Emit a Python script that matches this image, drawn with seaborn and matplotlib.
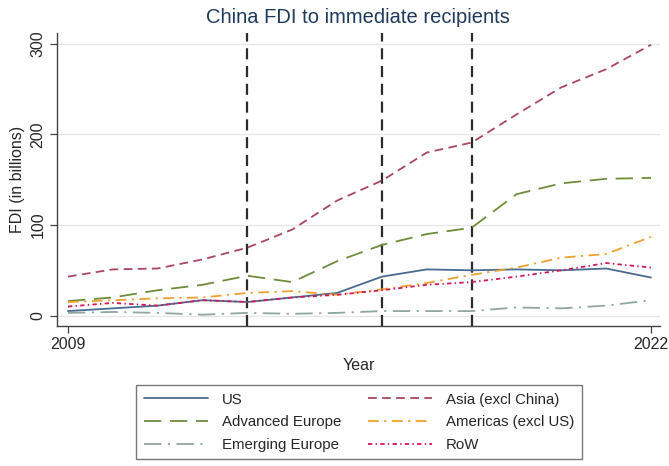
import pandas as pd
import matplotlib
matplotlib.use("Agg")
import matplotlib.pyplot as plt
import seaborn as sns

# Values (billions)
years = list(range(2009, 2023))
us = [5, 8, 11, 17, 15, 20, 25, 43, 51, 50, 51, 50, 52, 42]
adv_europe = [16, 20, 28, 34, 44, 37, 60, 78, 90, 97, 134, 146, 151, 152]
emg_europe = [3, 4, 3, 1, 3, 2, 3, 5, 5, 5, 9, 8, 11, 17]
asia = [43, 51, 52, 62, 75, 95, 127, 149, 180, 191, 222, 252, 272, 299]
americas = [15, 17, 19, 20, 25, 27, 23, 29, 36, 45, 53, 64, 68, 87]
row = [10, 14, 11, 17, 15, 20, 23, 28, 34, 37, 43, 50, 58, 53]
event_years = [2013, 2016, 2018]

regions = ["US", "Advanced Europe", "Emerging Europe",
           "Asia (excl China)", "Americas (excl US)", "RoW"]
series = [us, adv_europe, emg_europe, asia, americas, row]

df = pd.concat(
    [pd.DataFrame({"Year": years, "FDI": vals, "region": name})
     for name, vals in zip(regions, series)],
    ignore_index=True,
)

palette = {
    "US": "#4a6b90",
    "Advanced Europe": "#6e8c3c",
    "Emerging Europe": "#8ea7a2",
    "Asia (excl China)": "#a8475f",
    "Americas (excl US)": "#f0a030",
    "RoW": "#d2185a",
}
dashes = {
    "US": "",
    "Advanced Europe": (9.6, 4.8),
    "Emerging Europe": (9.6, 3.6, 1.2, 3.6),
    "Asia (excl China)": (4.8, 3),
    "Americas (excl US)": (6, 3, 1.2, 3),
    "RoW": (2.4, 1.8, 0.8, 1.8),
}

sns.set_style("white")
fonts = ["Liberation Sans Narrow", "Liberation Sans", "DejaVu Sans"]
plt.rcParams["font.family"] = fonts

fig = plt.figure(figsize=(6.69, 4.66), dpi=100)
ax = fig.add_axes([0.0848, 0.3004, 0.9017, 0.6288])

# horizontal grid
ax.set_yticks([0, 100, 200, 300])
ax.yaxis.grid(True, color="#e6e6e6", lw=0.9)
ax.set_axisbelow(True)

sns.lineplot(data=df, x="Year", y="FDI", hue="region", style="region",
             hue_order=regions, style_order=regions, palette=palette,
             dashes=dashes, lw=1.3, ax=ax)

for yr in event_years:
    ax.axvline(yr, color="#2b2b2b", lw=1.6, ls=(0, (5, 3)), zorder=1)

ax.set_xlim(2008.75, 2022.2)
ax.set_ylim(-11.5, 312)
ax.set_xticks([2009, 2022])
ax.set_xticklabels(["2009", "2022"], fontsize=11.5)
ax.set_yticklabels(["0", "100", "200", "300"], rotation=90, va="center",
                   fontsize=11.5)
ax.tick_params(axis="both", direction="out", length=5, width=0.9,
               color="#444444", bottom=True, left=True, pad=3)

for side in ["top", "right"]:
    ax.spines[side].set_visible(False)
for side in ["left", "bottom"]:
    ax.spines[side].set_color("#444444")
    ax.spines[side].set_linewidth(1.0)

ax.set_xlabel("Year", fontsize=11.5, labelpad=4)
ax.set_ylabel("FDI (in billions)", fontsize=11.5, labelpad=4)
ax.set_title("China FDI to immediate recipients", fontsize=14.5,
             color="#1f3a5c", pad=7)

handles, labels = ax.get_legend_handles_labels()
leg = ax.legend(handles, labels, ncol=2, loc="upper center",
                bbox_to_anchor=(0.501, -0.2014), borderaxespad=0,
                frameon=True, fancybox=False, edgecolor="#555555",
                fontsize=10.8, handlelength=4.3, columnspacing=1.8,
                labelspacing=0.58, borderpad=0.5, handletextpad=0.9)
leg.get_frame().set_linewidth(1.0)

fig.savefig("out.png", dpi=100)
